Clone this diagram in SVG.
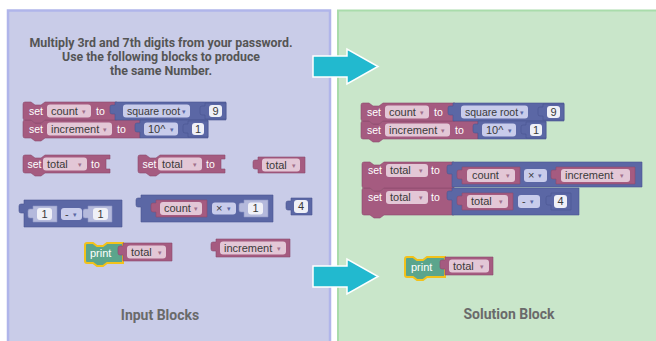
<svg xmlns="http://www.w3.org/2000/svg" width="656" height="341" viewBox="0 0 656 341">
<style>
.var{fill:#a55b80;stroke:#8c4a6c;stroke-width:0.6}
.math{fill:#5b67a5;stroke:#4a5590;stroke-width:0.6}
.shadow{fill:#b4b9dc;stroke:#8f96c4;stroke-width:0.6}
.txt{fill:#5ba58c;stroke:#f2c21b;stroke-width:2}
.vf{fill:#e3c7d6}
.mf{fill:#c8cceb}
.nf{fill:#eff0f7}
.w{fill:#fff;font-family:"Liberation Sans",Arial,sans-serif;font-size:10.5px}
.d{fill:#3a3a3a;font-family:"Liberation Sans",Arial,sans-serif;font-size:11px}
.a{fill:#a0708c;font-family:"DejaVu Sans",sans-serif;font-size:7px}
.am{fill:#5b67a5;font-family:"DejaVu Sans",sans-serif;font-size:7px}
.title{fill:#555;font-family:Roboto,"Liberation Sans",sans-serif;font-size:12px;font-weight:bold}
.cap{fill:#6a6a6a;font-family:Roboto,"Liberation Sans",sans-serif;font-size:14px;font-weight:bold}
.arrow{fill:#22b9cf;stroke:#fff;stroke-width:1.5}
</style>
<rect x="0" y="0" width="656" height="341" fill="#fff"/>
<g id="panel-input">
<rect x="8" y="10.5" width="322" height="340" fill="#c9cce8" stroke="#b0b5ea" stroke-width="2.5"/>
<text class="title" x="161" y="47" text-anchor="middle" textLength="263" lengthAdjust="spacingAndGlyphs">Multiply 3rd and 7th digits from your password.</text>
<text class="title" x="161" y="61" text-anchor="middle" textLength="198" lengthAdjust="spacingAndGlyphs">Use the following blocks to produce</text>
<text class="title" x="161" y="75" text-anchor="middle" textLength="102" lengthAdjust="spacingAndGlyphs">the same Number.</text>
<text class="cap" x="160" y="320" text-anchor="middle">Input Blocks</text>
</g>
<g id="panel-solution">
<rect x="338" y="10.5" width="330" height="340" fill="#c9e6ca" stroke="#a9dcab" stroke-width="2"/>
<text class="cap" x="509" y="319" text-anchor="middle">Solution Block</text>
</g>

<g id="stack-count-increment">
<path class="var" d="M25,120 H31 l4,3 h6 l4,-3 H140 V138 H45 l-4,3 h-6 l-4,-3 H25 Q23,138 23,136 V122 Q23,120 25,120 Z"/>
<path class="var" d="M25,102 H31 l4,3 h6 l4,-3 H117 V120 H45 l-4,3 h-6 l-4,-3 H25 Q23,120 23,118 V104 Q23,102 25,102 Z"/>
<text class="w" x="29" y="114.5">set</text>
<rect class="vf" x="47" y="104.5" width="44" height="13" rx="3"/>
<text class="d" x="51" y="114.5">count</text><text class="a" x="82" y="113.5">▾</text>
<text class="w" x="96" y="114.5">to</text>
<path class="math" d="M115,102 H226 V120 H115 V114 H112 Q110,114 110,112 V107 Q110,105 112,105 H115 Z"/>
<rect class="mf" x="123" y="104.5" width="67" height="13" rx="3"/>
<text class="d" x="127" y="114.5" style="font-size:10.5px">square root</text><text class="am" x="182" y="113.5">▾</text>
<path class="math" d="M205,103 H226 V119 H205 V115 H202 Q200,115 200,113 V108 Q200,106 202,106 H205 Z"/>
<rect class="nf" x="209" y="105" width="13" height="12" rx="3"/>
<text class="d" x="215.5" y="114.5" text-anchor="middle">9</text>
<text class="w" x="29" y="132.5">set</text>
<rect class="vf" x="47" y="122.5" width="65" height="13" rx="3"/>
<text class="d" x="51" y="132.5">increment</text><text class="a" x="103" y="131.5">▾</text>
<text class="w" x="117" y="132.5">to</text>
<path class="math" d="M140,120 H208 V138 H140 V132 H137 Q135,132 135,130 V125 Q135,123 137,123 H140 Z"/>
<rect class="mf" x="144" y="122.5" width="34" height="13" rx="3"/>
<text class="d" x="148" y="132.5">10^</text><text class="am" x="170" y="131.5">▾</text>
<path class="math" d="M188,121 H208 V137 H188 V133 H185 Q183,133 183,131 V126 Q183,124 185,124 H188 Z"/>
<rect class="nf" x="192" y="123" width="12" height="12" rx="3"/>
<text class="d" x="198" y="132.5" text-anchor="middle">1</text>
</g>

<g id="set-total-a">
<path class="var" d="M25,155 H31 l4,3 h6 l4,-3 H110 V159 H106 V169 H110 V173 H45 l-4,3 h-6 l-4,-3 H25 Q23,173 23,171 V157 Q23,155 25,155 Z"/>
<text class="w" x="27.5" y="167.5">set</text>
<rect class="vf" x="43" y="157.5" width="44" height="13" rx="3"/>
<text class="d" x="47" y="167.5">total</text><text class="a" x="78" y="166.5">▾</text>
<text class="w" x="91" y="167.5">to</text>
</g>
<g id="set-total-b" transform="translate(115,0)">
<path class="var" d="M25,155 H31 l4,3 h6 l4,-3 H110 V159 H106 V169 H110 V173 H45 l-4,3 h-6 l-4,-3 H25 Q23,173 23,171 V157 Q23,155 25,155 Z"/>
<text class="w" x="27.5" y="167.5">set</text>
<rect class="vf" x="43" y="157.5" width="44" height="13" rx="3"/>
<text class="d" x="47" y="167.5">total</text><text class="a" x="78" y="166.5">▾</text>
<text class="w" x="91" y="167.5">to</text>
</g>
<g id="get-total">
<path class="var" d="M258,157 H305 V173 H258 V169 H255 Q253,169 253,167 V162 Q253,160 255,160 H258 Z"/>
<rect class="vf" x="262" y="158.5" width="38" height="13" rx="3"/>
<text class="d" x="266" y="168.5">total</text><text class="a" x="292" y="167.5">▾</text>
</g>

<g id="minus-block">
<path class="math" d="M24,200 H122 V227 H24 V213 H21 Q19,213 19,211 V206 Q19,204 21,204 H24 Z"/>
<path class="shadow" d="M33,206 H57 V222 H33 V218 H30 Q28,218 28,216 V211 Q28,209 30,209 H33 Z"/>
<rect class="nf" x="37" y="208" width="15" height="12" rx="3"/>
<text class="d" x="44.5" y="217.5" text-anchor="middle">1</text>
<rect class="mf" x="61" y="208" width="21" height="12" rx="3"/>
<text class="d" x="65" y="217.5">-</text><text class="am" x="73" y="216.5">▾</text>
<path class="shadow" d="M88,206 H112 V222 H88 V218 H85 Q83,218 83,216 V211 Q83,209 85,209 H88 Z"/>
<rect class="nf" x="93" y="208" width="15" height="12" rx="3"/>
<text class="d" x="100.5" y="217.5" text-anchor="middle">1</text>
</g>

<g id="multiply-block">
<path class="math" d="M141,195 H273 V222 H141 V207 H138 Q136,207 136,205 V200 Q136,198 138,198 H141 Z"/>
<path class="var" d="M156,200 H207 V217 H156 V212 H153 Q151,212 151,210 V205 Q151,203 153,203 H156 Z"/>
<rect class="vf" x="160" y="202" width="42" height="13" rx="3"/>
<text class="d" x="164" y="212">count</text><text class="a" x="194" y="211">▾</text>
<rect class="mf" x="212" y="202.5" width="24" height="12" rx="3"/>
<text class="d" x="216" y="212">×</text><text class="am" x="227" y="211">▾</text>
<path class="shadow" d="M244,200 H268 V217 H244 V212 H241 Q239,212 239,210 V205 Q239,203 241,203 H244 Z"/>
<rect class="nf" x="248" y="202.5" width="15" height="12" rx="3"/>
<text class="d" x="255.5" y="212" text-anchor="middle">1</text>
</g>

<g id="number-4">
<path class="math" d="M291,198 H312 V215 H291 V210 H288 Q286,210 286,208 V203 Q286,201 288,201 H291 Z"/>
<rect class="nf" x="294" y="200" width="14" height="13" rx="3"/>
<text class="d" x="301" y="210" text-anchor="middle">4</text>
</g>

<g id="print-input">
<path class="txt" d="M87,243 H93 l4,3 h6 l4,-3 H123 V263 H107 l-4,3 h-6 l-4,-3 H87 Q85,263 85,261 V245 Q85,243 87,243 Z"/>
<text class="w" x="90" y="257" style="font-size:11px">print</text>
<path class="var" d="M123,243 H172 V261 H123 V255 H120 Q118,255 118,253 V248 Q118,246 120,246 H123 Z"/>
<rect class="vf" x="127" y="245.5" width="39" height="13" rx="3"/>
<text class="d" x="131" y="255.5">total</text><text class="a" x="158" y="254.5">▾</text>
</g>

<g id="get-increment">
<path class="var" d="M216,239 H290 V257 H216 V251 H213 Q211,251 211,249 V244 Q211,242 213,242 H216 Z"/>
<rect class="vf" x="220" y="241.5" width="66" height="13" rx="3"/>
<text class="d" x="224" y="251.5">increment</text><text class="a" x="277" y="250.5">▾</text>
</g>

<g id="solution-stack-count-increment" transform="translate(338,1)">
<path class="var" d="M25,120 H31 l4,3 h6 l4,-3 H140 V138 H45 l-4,3 h-6 l-4,-3 H25 Q23,138 23,136 V122 Q23,120 25,120 Z"/>
<path class="var" d="M25,102 H31 l4,3 h6 l4,-3 H117 V120 H45 l-4,3 h-6 l-4,-3 H25 Q23,120 23,118 V104 Q23,102 25,102 Z"/>
<text class="w" x="29" y="114.5">set</text>
<rect class="vf" x="47" y="104.5" width="44" height="13" rx="3"/>
<text class="d" x="51" y="114.5">count</text><text class="a" x="82" y="113.5">▾</text>
<text class="w" x="96" y="114.5">to</text>
<path class="math" d="M115,102 H226 V120 H115 V114 H112 Q110,114 110,112 V107 Q110,105 112,105 H115 Z"/>
<rect class="mf" x="123" y="104.5" width="67" height="13" rx="3"/>
<text class="d" x="127" y="114.5" style="font-size:10.5px">square root</text><text class="am" x="182" y="113.5">▾</text>
<path class="math" d="M205,103 H226 V119 H205 V115 H202 Q200,115 200,113 V108 Q200,106 202,106 H205 Z"/>
<rect class="nf" x="209" y="105" width="13" height="12" rx="3"/>
<text class="d" x="215.5" y="114.5" text-anchor="middle">9</text>
<text class="w" x="29" y="132.5">set</text>
<rect class="vf" x="47" y="122.5" width="65" height="13" rx="3"/>
<text class="d" x="51" y="132.5">increment</text><text class="a" x="103" y="131.5">▾</text>
<text class="w" x="117" y="132.5">to</text>
<path class="math" d="M140,120 H208 V138 H140 V132 H137 Q135,132 135,130 V125 Q135,123 137,123 H140 Z"/>
<rect class="mf" x="144" y="122.5" width="34" height="13" rx="3"/>
<text class="d" x="148" y="132.5">10^</text><text class="am" x="170" y="131.5">▾</text>
<path class="math" d="M188,121 H208 V137 H188 V133 H185 Q183,133 183,131 V126 Q183,124 185,124 H188 Z"/>
<rect class="nf" x="192" y="123" width="12" height="12" rx="3"/>
<text class="d" x="198" y="132.5" text-anchor="middle">1</text>
</g>

<g id="solution-stack-total">
<path class="var" d="M364,188 H370 l4,3 h6 l4,-3 H454 V215 H384 l-4,3 h-6 l-4,-3 H364 Q362,215 362,213 V190 Q362,188 364,188 Z"/>
<path class="var" d="M364,162 H370 l4,3 h6 l4,-3 H454 V188 H384 l-4,3 h-6 l-4,-3 H364 Q362,188 362,186 V164 Q362,162 364,162 Z"/>
<text class="w" x="368" y="174">set</text>
<rect class="vf" x="386" y="164" width="42" height="13" rx="3"/>
<text class="d" x="390" y="174">total</text><text class="a" x="419" y="173">▾</text>
<text class="w" x="431" y="174">to</text>
<text class="w" x="368" y="201">set</text>
<rect class="vf" x="386" y="191" width="42" height="13" rx="3"/>
<text class="d" x="390" y="201">total</text><text class="a" x="419" y="200">▾</text>
<text class="w" x="431" y="201">to</text>
<path class="math" d="M452,162 H642 V187 H452 V174 H449 Q447,174 447,172 V167 Q447,165 449,165 H452 Z"/>
<path class="var" d="M462,167 H520 V184 H462 V179 H459 Q457,179 457,177 V172 Q457,170 459,170 H462 Z"/>
<rect class="vf" x="467" y="169" width="48" height="13" rx="3"/>
<text class="d" x="472" y="179">count</text><text class="a" x="506" y="178">▾</text>
<rect class="mf" x="524" y="169" width="23" height="13" rx="3"/>
<text class="d" x="528" y="179">×</text><text class="am" x="538" y="178">▾</text>
<path class="var" d="M556,167 H635 V184 H556 V179 H553 Q551,179 551,177 V172 Q551,170 553,170 H556 Z"/>
<rect class="vf" x="561" y="169" width="69" height="13" rx="3"/>
<text class="d" x="565" y="179">increment</text><text class="a" x="620" y="178">▾</text>
<path class="math" d="M452,188 H579 V215 H452 V200 H449 Q447,200 447,198 V193 Q447,191 449,191 H452 Z"/>
<path class="var" d="M462,193 H513 V210 H462 V205 H459 Q457,205 457,203 V198 Q457,196 459,196 H462 Z"/>
<rect class="vf" x="467" y="195" width="41" height="13" rx="3"/>
<text class="d" x="471" y="205">total</text><text class="a" x="499" y="204">▾</text>
<rect class="mf" x="518" y="195" width="22" height="13" rx="3"/>
<text class="d" x="522" y="205">-</text><text class="am" x="530" y="204">▾</text>
<path class="math" d="M551,193 H571 V210 H551 V205 H548 Q546,205 546,203 V198 Q546,196 548,196 H551 Z"/>
<rect class="nf" x="554" y="195" width="13" height="13" rx="3"/>
<text class="d" x="560.5" y="205" text-anchor="middle">4</text>
</g>

<g id="print-solution">
<path class="txt" d="M407,257 H413 l4,3 h6 l4,-3 H445 V277 H427 l-4,3 h-6 l-4,-3 H407 Q405,277 405,275 V259 Q405,257 407,257 Z"/>
<text class="w" x="411" y="271" style="font-size:11px">print</text>
<path class="var" d="M445,257 H493 V275 H445 V269 H442 Q440,269 440,267 V262 Q440,260 442,260 H445 Z"/>
<rect class="vf" x="449" y="259.5" width="40" height="13" rx="3"/>
<text class="d" x="453" y="269.5">total</text><text class="a" x="480" y="268.5">▾</text>
</g>

<g id="connectors">
<polygon class="arrow" points="313,56 347,56 347,49 378,66.5 347,84 347,77 313,77"/>
<polygon class="arrow" points="313,266 347,266 347,259 378,276.5 347,294 347,287 313,287"/>
</g>
</svg>
